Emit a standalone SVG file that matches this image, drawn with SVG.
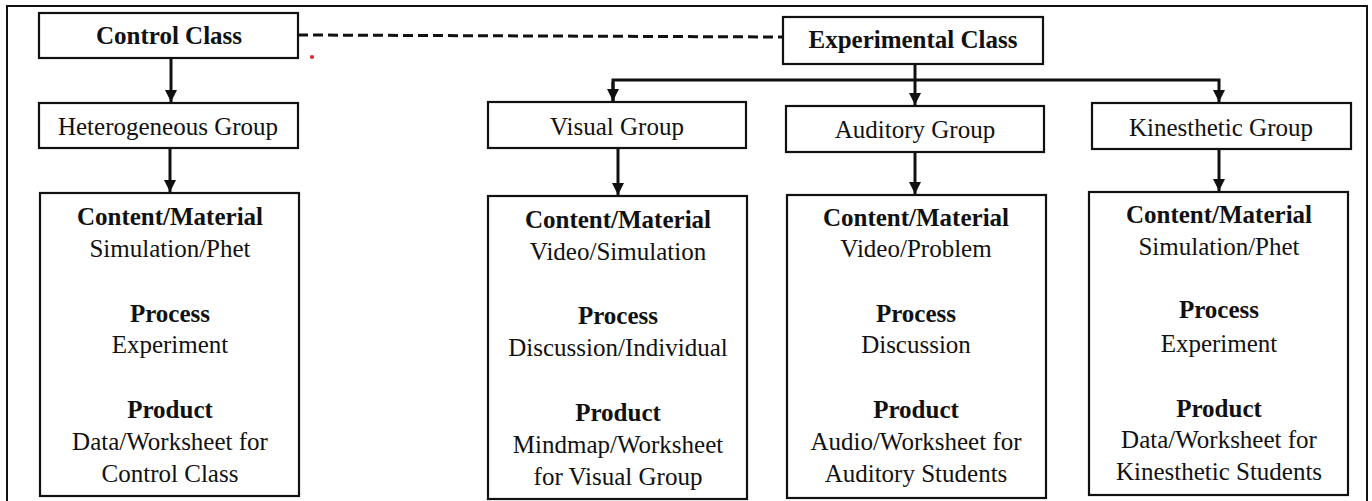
<svg xmlns="http://www.w3.org/2000/svg" width="1372" height="501" viewBox="0 0 1372 501">
<style>
text{font-family:'Liberation Serif','DejaVu Serif',serif;font-size:25px;fill:#111;text-anchor:middle}
.b{font-weight:bold}
.box{fill:#fff;stroke:#111;stroke-width:2.2}
.ln{fill:none;stroke:#111;stroke-width:3}
</style>
<defs>
<marker id="ah" viewBox="0 0 10 10" refX="10" refY="5" markerWidth="4" markerHeight="4" markerUnits="strokeWidth" orient="auto">
<path d="M0,0 L10,5 L0,10 Z" fill="#111"/>
</marker>
</defs>
<rect x="0" y="0" width="1372" height="501" fill="#fff"/>
<rect x="7" y="6" width="1360" height="510" fill="none" stroke="#111" stroke-width="2"/>
<g id="connectors">
<line class="ln" x1="298" y1="35" x2="783" y2="37" stroke-dasharray="10 5" stroke-width="3.5"/>
<line class="ln" x1="171" y1="58" x2="171" y2="102" marker-end="url(#ah)"/>
<line class="ln" x1="170" y1="148" x2="170" y2="192" marker-end="url(#ah)"/>
<line class="ln" x1="915" y1="64" x2="915" y2="80"/>
<polyline class="ln" points="613,101 613,80 1219,80 1219,102" marker-end="url(#ah)"/>
<line class="ln" x1="613" y1="82" x2="613" y2="101" marker-end="url(#ah)"/>
<line class="ln" x1="915" y1="80" x2="915" y2="105" marker-end="url(#ah)"/>
<line class="ln" x1="618" y1="148" x2="618" y2="195" marker-end="url(#ah)"/>
<line class="ln" x1="915" y1="152" x2="915" y2="194" marker-end="url(#ah)"/>
<line class="ln" x1="1219" y1="149" x2="1219" y2="191" marker-end="url(#ah)"/>
</g>
<circle cx="312" cy="57" r="2" fill="#e0202a"/>
<g id="control-class">
<rect class="box" x="39" y="13" width="259" height="45"/>
<text class="b" x="169" y="44">Control Class</text>
</g>
<g id="experimental-class">
<rect class="box" x="783" y="17" width="260" height="47"/>
<text class="b" x="913" y="48">Experimental Class</text>
</g>
<g id="heterogeneous-group">
<rect class="box" x="39" y="103" width="259" height="45"/>
<text x="168" y="135">Heterogeneous Group</text>
</g>
<g id="visual-group">
<rect class="box" x="488" y="102" width="258" height="46"/>
<text x="617" y="135">Visual Group</text>
</g>
<g id="auditory-group">
<rect class="box" x="786" y="106" width="258" height="46"/>
<text x="915" y="138">Auditory Group</text>
</g>
<g id="kinesthetic-group">
<rect class="box" x="1092" y="103" width="259" height="46"/>
<text x="1221" y="136">Kinesthetic Group</text>
</g>
<g id="control-content">
<rect class="box" x="40" y="193" width="259" height="303"/>
<text class="b" x="170" y="225">Content/Material</text>
<text x="170" y="257">Simulation/Phet</text>
<text class="b" x="170" y="322">Process</text>
<text x="170" y="353">Experiment</text>
<text class="b" x="170" y="418">Product</text>
<text x="170" y="450">Data/Worksheet for</text>
<text x="170" y="482">Control Class</text>
</g>
<g id="visual-content">
<rect class="box" x="488" y="196" width="259" height="303"/>
<text class="b" x="618" y="228">Content/Material</text>
<text x="618" y="260">Video/Simulation</text>
<text class="b" x="618" y="324">Process</text>
<text x="618" y="356">Discussion/Individual</text>
<text class="b" x="618" y="421">Product</text>
<text x="618" y="453">Mindmap/Worksheet</text>
<text x="618" y="485">for Visual Group</text>
</g>
<g id="auditory-content">
<rect class="box" x="787" y="195" width="259" height="303"/>
<text class="b" x="916" y="226">Content/Material</text>
<text x="916" y="257">Video/Problem</text>
<text class="b" x="916" y="322">Process</text>
<text x="916" y="353">Discussion</text>
<text class="b" x="916" y="418">Product</text>
<text x="916" y="450">Audio/Worksheet for</text>
<text x="916" y="482">Auditory Students</text>
</g>
<g id="kinesthetic-content">
<rect class="box" x="1089" y="192" width="259" height="303"/>
<text class="b" x="1219" y="223">Content/Material</text>
<text x="1219" y="255">Simulation/Phet</text>
<text class="b" x="1219" y="318">Process</text>
<text x="1219" y="352">Experiment</text>
<text class="b" x="1219" y="417">Product</text>
<text x="1219" y="448">Data/Worksheet for</text>
<text x="1219" y="480">Kinesthetic Students</text>
</g>
</svg>
